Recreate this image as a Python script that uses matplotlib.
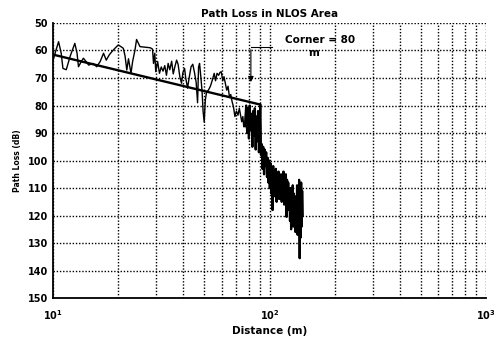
import numpy as np
import matplotlib
matplotlib.use('Agg')
import matplotlib.pyplot as plt

plt.rcParams['font.family'] = ['DejaVu Sans']
plt.rcParams['font.weight'] = 'bold'

# measured path loss, sparse part (m, dB)
dist_a = [10.0, 10.3, 10.6, 10.9, 11.1, 11.5, 12.0, 12.6, 12.9, 13.1, 13.5, 13.8,
          14.2, 14.6, 15.3, 15.9, 16.5, 17.1, 17.6, 18.2, 18.7, 19.3, 20.0, 20.5,
          21.1, 21.5, 21.9, 22.3, 22.9, 23.3, 23.9, 24.3, 25.2, 26.5, 28.1, 28.8,
          29.1, 29.5, 29.8, 30.4, 31.0, 31.6, 32.2, 32.8, 33.4, 34.0, 34.6, 35.3,
          35.9, 36.5, 37.2, 37.8, 38.5, 39.2, 39.8, 40.5, 41.0, 41.8, 42.5, 43.4,
          44.2, 45.0, 45.8, 46.5, 47.0, 47.5, 48.2, 48.8, 49.3, 49.9, 50.5, 51.2,
          52.2, 53.3, 54.3, 55.5, 56.3, 57.2, 58.2, 59.0, 59.8, 60.8, 61.6, 62.5,
          63.4, 64.3, 65.3, 66.2, 67.1, 68.1, 69.2, 70.3, 71.5, 72.5, 73.3, 74.4,
          75.3, 76.0]
loss_a = [63.5, 60.0, 56.8, 61.0, 66.5, 67.0, 62.0, 57.4, 61.0, 65.9, 64.0, 62.8,
          64.0, 65.3, 64.7, 65.9, 64.0, 61.0, 63.5, 61.5, 60.4, 59.2, 58.0, 58.5,
          59.2, 62.0, 67.1, 63.0, 68.3, 64.0, 59.8, 56.0, 58.6, 58.8, 59.0, 59.5,
          64.7, 61.0, 67.7, 64.0, 68.3, 66.0, 67.5, 65.5, 69.0, 64.7, 67.0, 63.9,
          68.5, 66.0, 63.5, 65.0, 69.5, 71.9, 68.0, 66.5, 70.0, 73.7, 70.0, 65.9,
          65.0, 68.0, 71.5, 79.0, 66.0, 64.7, 70.0, 75.0, 82.0, 86.0, 78.0, 75.0,
          74.4, 73.0, 71.0, 68.3, 71.0, 68.3, 69.0, 68.0, 67.7, 71.0, 69.5, 72.0,
          74.4, 73.0, 77.0, 76.0, 78.5, 80.4, 84.0, 82.0, 83.5, 81.0, 83.0, 85.9,
          84.0, 87.7]

# measured path loss, dense part beyond the corner (m, dB)
dist_b = [77.0, 78.0, 78.8, 79.5, 80.3, 81.0, 81.8, 82.5, 83.3, 84.0, 84.8, 85.5,
          86.3, 87.0, 87.8, 88.5, 89.3, 90.0, 90.6, 91.3, 92.0, 92.8, 93.5, 94.3,
          95.0, 95.8, 96.5, 97.3, 98.0, 98.8, 99.5, 100.3, 101.0, 101.8, 102.5, 103.3,
          104.0, 104.8, 105.5, 106.3, 107.0, 107.8, 108.5, 109.3, 110.0, 110.8, 111.5, 112.3,
          113.0, 113.8, 114.5, 115.3, 116.0, 116.8, 117.5, 118.3, 119.0, 119.8, 120.5, 121.3,
          122.0, 122.8, 123.5, 124.3, 125.0, 125.8, 126.5, 127.3, 128.0, 128.8, 129.5, 130.3,
          131.0, 131.8, 132.5, 133.3, 134.0, 134.8, 135.5, 136.3, 137.0, 137.8, 138.5, 139.3,
          140.0, 140.8, 141.5, 142.3]
loss_b = [87.5, 80.0, 90.0, 81.0, 92.0, 80.0, 89.0, 83.0, 95.0, 82.0, 91.0, 81.0,
          96.0, 84.0, 93.0, 82.0, 97.0, 88.0, 79.5, 98.0, 94.0, 103.0, 95.0, 105.0,
          96.0, 102.0, 97.0, 106.0, 99.0, 108.0, 100.0, 110.0, 101.0, 112.0, 103.0, 118.0,
          102.0, 113.0, 104.0, 111.0, 103.0, 115.0, 105.0, 112.0, 104.0, 114.0, 106.0, 113.0,
          105.0, 115.0, 107.0, 112.0, 104.0, 116.0, 106.0, 114.0, 105.0, 120.5, 107.0, 115.0,
          108.0, 118.0, 111.0, 122.0, 110.0, 125.0, 112.0, 121.0, 109.0, 124.0, 112.0, 120.0,
          115.0, 126.0, 113.0, 122.0, 109.0, 127.0, 110.0, 124.0, 107.0, 135.5, 112.0, 128.0,
          108.0, 124.0, 111.0, 120.0]

# regression line up to the corner
fit_dist = [10, 90]
fit_loss = [61.5, 79.6]

y_ticks = [50, 60, 70, 80, 90, 100, 110, 120, 130, 140, 150]
x_ticks = [10, 100, 1000]
x_tick_labels = [r'$\mathbf{10^{1}}$', r'$\mathbf{10^{2}}$', r'$\mathbf{10^{3}}$']

fig = plt.figure(figsize=(5.01, 3.38), dpi=100)
ax = fig.add_axes([0.106, 0.118, 0.864, 0.814])

ax.plot(dist_a + dist_b, loss_a + loss_b, color='black', lw=1.0)
ax.plot(dist_b, loss_b, color='black', lw=1.6)
ax.plot(fit_dist, fit_loss, color='black', lw=1.7)

ax.set_xscale('log')
ax.set_xlim(10, 1000)
ax.set_ylim(150, 50)
ax.set_yticks(y_ticks)
ax.set_xticks(x_ticks)
ax.set_xticklabels(x_tick_labels)
ax.tick_params(axis='both', which='both', length=0, labelsize=7)
ax.tick_params(axis='x', pad=7)

ax.grid(True, which='both', color='black', linestyle=(0, (1, 1.3)), lw=1.0)
for s in ['top', 'right']:
    ax.spines[s].set_visible(False)
for s in ['left', 'bottom']:
    ax.spines[s].set_linewidth(1.3)

# corner annotation
ax.plot([103, 82], [58.7, 58.7], color='black', lw=0.8)
ax.annotate('', xy=(82, 72.5), xytext=(82, 58.7),
            arrowprops=dict(arrowstyle='-|>', color='black', lw=0.8, mutation_scale=8))
ax.text(171, 56.2, 'Corner = 80', ha='center', va='center', fontsize=7.5, fontweight='bold')
ax.text(159, 60.9, 'm', ha='center', va='center', fontsize=7.5, fontweight='bold')

ax.set_title('Path Loss in NLOS Area', fontsize=7.5, fontweight='bold', pad=4)
ax.set_xlabel('Distance (m)', fontsize=7.5, fontweight='bold', labelpad=3)
ax.set_ylabel('Path Loss (dB)', fontsize=5.5, fontweight='bold', labelpad=4)

fig.savefig('out.png', dpi=100)
